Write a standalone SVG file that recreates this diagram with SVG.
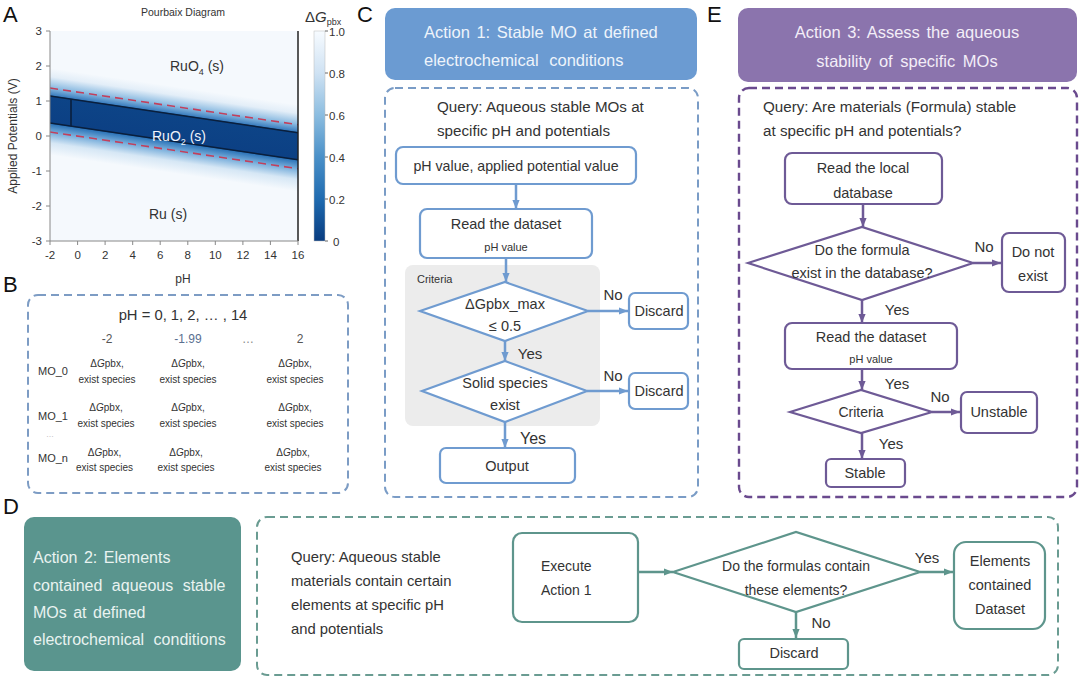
<svg xmlns="http://www.w3.org/2000/svg" width="1080" height="680" viewBox="0 0 1080 680">
<defs>
<style>
text{font-family:"Liberation Sans",Arial,sans-serif;fill:#333}
.pl{font-size:22px;fill:#111}
.tk{font-size:11.5px;fill:#333}
.c{text-anchor:middle}
.bb{fill:#fff;stroke:#6f9bd0;stroke-width:2.2}
.pb{fill:#fff;stroke:#6e5a96;stroke-width:2.2}
.tb{fill:#fff;stroke:#5e958c;stroke-width:2.2}
.bl{stroke:#6f9bd0;stroke-width:2.5;fill:none}
.plk{stroke:#6e5a96;stroke-width:2.5;fill:none}
.tl{stroke:#5e958c;stroke-width:2.5;fill:none}
.ft{font-size:14.5px;fill:#333}
.q{font-size:15.2px;fill:#333}
.sm{font-size:10px;fill:#333}
.yn{font-size:15px;fill:#333}
</style>
<marker id="ab" viewBox="0 0 10 10" refX="10" refY="5" markerWidth="9" markerHeight="9" markerUnits="userSpaceOnUse" orient="auto"><path d="M0,1 L10,5 L0,9 z" fill="#6f9bd0"/></marker>
<marker id="ap" viewBox="0 0 10 10" refX="10" refY="5" markerWidth="9" markerHeight="9" markerUnits="userSpaceOnUse" orient="auto"><path d="M0,1 L10,5 L0,9 z" fill="#6e5a96"/></marker>
<marker id="at" viewBox="0 0 10 10" refX="10" refY="5" markerWidth="9" markerHeight="9" markerUnits="userSpaceOnUse" orient="auto"><path d="M0,1 L10,5 L0,9 z" fill="#5e958c"/></marker>
<linearGradient id="band" x1="0" y1="68" x2="0" y2="155" gradientUnits="userSpaceOnUse">
<stop offset="0" stop-color="#f5f9fd"/>
<stop offset="0.10" stop-color="#e3eef8"/>
<stop offset="0.22" stop-color="#8fbde2"/>
<stop offset="0.31" stop-color="#3c7fc0"/>
<stop offset="0.322" stop-color="#0d4487"/>
<stop offset="0.632" stop-color="#0c4084"/>
<stop offset="0.645" stop-color="#2f76b9"/>
<stop offset="0.74" stop-color="#78aedb"/>
<stop offset="0.86" stop-color="#d6e7f5"/>
<stop offset="1" stop-color="#f5f9fd"/>
</linearGradient>
<linearGradient id="cbar" x1="0" y1="1" x2="0" y2="0">
<stop offset="0" stop-color="#083c80"/>
<stop offset="0.2" stop-color="#1f6bb0"/>
<stop offset="0.4" stop-color="#4a90c8"/>
<stop offset="0.6" stop-color="#8cbde0"/>
<stop offset="0.8" stop-color="#cfe2f3"/>
<stop offset="1" stop-color="#f7fbff"/>
</linearGradient>
<clipPath id="plot"><rect x="50" y="31" width="248" height="210"/></clipPath>
</defs>
<rect width="1080" height="680" fill="#fff"/>

<!-- Panel A -->
<g id="panelA">
<text class="pl" x="3" y="22">A</text>
<text x="183" y="16" class="c" style="font-size:10.5px">Pourbaix Diagram</text>
<rect x="50" y="31" width="248" height="210" fill="#f5f9fd"/>
<g clip-path="url(#plot)">
<g transform="translate(0,-7.4) skewY(8.42)">
<rect x="40" y="68" width="270" height="87" fill="url(#band)"/>
<line x1="50" y1="96" x2="300" y2="96" stroke="#0a1f3c" stroke-width="1.6"/>
<line x1="50" y1="123" x2="300" y2="123" stroke="#0a1f3c" stroke-width="1.6"/>
<line x1="71" y1="96" x2="71" y2="123" stroke="#0a1f3c" stroke-width="1.6"/>
<line x1="50" y1="88" x2="300" y2="88" stroke="#c2405c" stroke-width="1.6" stroke-dasharray="8,5"/>
<line x1="50" y1="132" x2="300" y2="132" stroke="#c2405c" stroke-width="1.6" stroke-dasharray="8,5"/>
</g>
</g>
<line x1="298" y1="31" x2="298" y2="241" stroke="#222" stroke-width="1.5"/>
<path d="M50,31 V241 H298" fill="none" stroke="#888" stroke-width="1"/>
<g stroke="#888" stroke-width="1">
<line x1="46" y1="31" x2="50" y2="31"/><line x1="46" y1="66" x2="50" y2="66"/><line x1="46" y1="101" x2="50" y2="101"/><line x1="46" y1="136" x2="50" y2="136"/><line x1="46" y1="171" x2="50" y2="171"/><line x1="46" y1="206" x2="50" y2="206"/><line x1="46" y1="241" x2="50" y2="241"/>
<line x1="50" y1="241" x2="50" y2="245"/><line x1="77.6" y1="241" x2="77.6" y2="245"/><line x1="105.1" y1="241" x2="105.1" y2="245"/><line x1="132.7" y1="241" x2="132.7" y2="245"/><line x1="160.2" y1="241" x2="160.2" y2="245"/><line x1="187.8" y1="241" x2="187.8" y2="245"/><line x1="215.3" y1="241" x2="215.3" y2="245"/><line x1="242.9" y1="241" x2="242.9" y2="245"/><line x1="270.4" y1="241" x2="270.4" y2="245"/><line x1="298" y1="241" x2="298" y2="245"/>
</g>
<g class="tk" text-anchor="end">
<text x="42" y="35">3</text><text x="42" y="70">2</text><text x="42" y="105">1</text><text x="42" y="140">0</text><text x="42" y="175">-1</text><text x="42" y="210">-2</text><text x="42" y="245">-3</text>
</g>
<g class="tk" text-anchor="middle">
<text x="50" y="259">-2</text><text x="77.6" y="259">0</text><text x="105.1" y="259">2</text><text x="132.7" y="259">4</text><text x="160.2" y="259">6</text><text x="187.8" y="259">8</text><text x="215.3" y="259">10</text><text x="242.9" y="259">12</text><text x="270.4" y="259">14</text><text x="298" y="259">16</text>
</g>
<text x="183" y="283" class="c" style="font-size:12px">pH</text>
<text transform="translate(17,136) rotate(-90)" class="c" style="font-size:12px">Applied Potentials (V)</text>
<text x="197" y="71" class="c" style="font-size:14px">RuO<tspan dy="4" style="font-size:9px">4</tspan><tspan dy="-4"> (s)</tspan></text>
<text x="179" y="141" class="c" style="font-size:14px;fill:#f0f4fa">RuO<tspan dy="4" style="font-size:9px;fill:#f0f4fa">2</tspan><tspan dy="-4" style="fill:#f0f4fa"> (s)</tspan></text>
<text x="168" y="219" class="c" style="font-size:14px">Ru (s)</text>
<text x="305" y="22" style="font-size:15px">Δ<tspan font-style="italic">G</tspan><tspan dy="3" style="font-size:9px">pbx</tspan></text>
<rect x="314" y="31" width="11" height="210" fill="url(#cbar)" stroke="#bbb" stroke-width="0.5"/>
<g stroke="#666" stroke-width="1">
<line x1="325" y1="31" x2="328" y2="31"/><line x1="325" y1="73" x2="328" y2="73"/><line x1="325" y1="115" x2="328" y2="115"/><line x1="325" y1="157" x2="328" y2="157"/><line x1="325" y1="199" x2="328" y2="199"/><line x1="325" y1="241" x2="328" y2="241"/>
</g>
<g class="tk">
<text x="329" y="36">1.0</text><text x="329" y="78">0.8</text><text x="329" y="120">0.6</text><text x="329" y="162">0.4</text><text x="329" y="204">0.2</text><text x="333" y="246">0</text>
</g>
</g>

<!-- Panel B -->
<g id="panelB">
<text class="pl" x="3" y="292">B</text>
<rect x="28" y="295" width="320" height="198" rx="10" fill="none" stroke="#7d9cc4" stroke-width="2" stroke-dasharray="8,5"/>
<text x="183" y="320" class="c" style="font-size:14.8px">pH = 0, 1, 2, … , 14</text>
<text x="107" y="343" class="c" style="font-size:12px;fill:#555">-2</text>
<text x="188" y="343" class="c" style="font-size:12px;fill:#5a6f90">-1.99</text>
<text x="248" y="343" class="c" style="font-size:12px;fill:#888">…</text>
<text x="300" y="343" class="c" style="font-size:12px;fill:#555">2</text>
<text x="38" y="375" style="font-size:11px">MO_0</text>
<text x="38" y="420" style="font-size:11px">MO_1</text>
<text x="50" y="437" class="c" style="font-size:8px;fill:#aaa">…</text>
<text x="38" y="462" style="font-size:11px">MO_n</text>
<g class="sm" text-anchor="middle">
<text x="107" y="367">Δ<tspan font-style="italic">G</tspan>pbx,</text><text x="107" y="383">exist species</text>
<text x="188" y="367">Δ<tspan font-style="italic">G</tspan>pbx,</text><text x="188" y="383">exist species</text>
<text x="295" y="367">Δ<tspan font-style="italic">G</tspan>pbx,</text><text x="295" y="383">exist species</text>
<text x="106" y="411">Δ<tspan font-style="italic">G</tspan>pbx,</text><text x="106" y="427">exist species</text>
<text x="188" y="411">Δ<tspan font-style="italic">G</tspan>pbx,</text><text x="188" y="427">exist species</text>
<text x="295" y="411">Δ<tspan font-style="italic">G</tspan>pbx,</text><text x="295" y="427">exist species</text>
<text x="104.5" y="456">Δ<tspan font-style="italic">G</tspan>pbx,</text><text x="104.5" y="471">exist species</text>
<text x="186" y="456">Δ<tspan font-style="italic">G</tspan>pbx,</text><text x="186" y="471">exist species</text>
<text x="293" y="456">Δ<tspan font-style="italic">G</tspan>pbx,</text><text x="293" y="471">exist species</text>
</g>
</g>

<!-- Panel C -->
<g id="panelC">
<text class="pl" x="357" y="22">C</text>
<g id="c-header"><rect x="385" y="8" width="312" height="72" rx="10" fill="#6b9bd2"/>
<text x="424" y="38" style="font-size:16.5px;fill:#eef4fb;word-spacing:2px">Action 1: Stable MO at defined</text>
<text x="424" y="66" style="font-size:16.5px;fill:#eef4fb;word-spacing:6px">electrochemical conditions</text></g>
<rect x="385" y="88" width="313" height="409" rx="10" fill="none" stroke="#7a9cc6" stroke-width="2" stroke-dasharray="8,5"/>
<text x="437" y="112" class="q">Query: Aqueous stable MOs at</text>
<text x="437" y="136" class="q">specific pH and potentials</text>
<rect x="405" y="265" width="195" height="161" rx="8" fill="#ececec"/>
<text x="417" y="283" style="font-size:11px">Criteria</text>
<g id="c-input"><rect class="bb" x="396" y="147" width="240" height="37" rx="7"/><text x="516" y="171" class="c" style="font-size:14.2px">pH value, applied potential value</text></g>
<g id="c-read"><rect class="bb" x="420" y="209" width="172" height="49" rx="7"/><text x="506" y="229" class="c ft">Read the dataset</text><text x="506" y="251" class="c" style="font-size:11px">pH value</text></g>
<g id="c-d1"><polygon class="bb" points="420,311 505,282 588,311 505,341"/><text x="505" y="309" class="c ft">ΔGpbx_max</text><text x="505" y="331" class="c ft">≤ 0.5</text></g>
<g id="c-dis1"><rect class="bb" x="629" y="293" width="59" height="36" rx="6"/><text x="659" y="316" class="c ft">Discard</text></g>
<g id="c-d2"><polygon class="bb" points="422,391 505,361 587,391 505,422"/><text x="505" y="388" class="c ft">Solid species</text><text x="505" y="410" class="c ft">exist</text></g>
<g id="c-dis2"><rect class="bb" x="629" y="373" width="59" height="36" rx="6"/><text x="659" y="396" class="c ft">Discard</text></g>
<g id="c-out"><rect class="bb" x="440" y="448" width="135" height="35" rx="6"/><text x="507" y="471" class="c" style="font-size:14.5px">Output</text></g>
<text x="613" y="300" class="c yn">No</text>
<text x="613" y="381" class="c yn">No</text>
<text x="530" y="359" class="c yn">Yes</text>
<text x="533" y="444" class="c" style="font-size:16px">Yes</text>
</g>

<!-- Panel E -->
<g id="panelE">
<text class="pl" x="707" y="22">E</text>
<g id="e-header"><rect x="738" y="8" width="339" height="74" rx="10" fill="#8b74ad"/>
<text x="907" y="38" class="c" style="font-size:16.5px;fill:#f3eef8;word-spacing:2px">Action 3: Assess the aqueous</text>
<text x="907" y="67" class="c" style="font-size:16.5px;fill:#f3eef8;word-spacing:3px">stability of specific MOs</text></g>
<rect x="739" y="88" width="338" height="409" rx="10" fill="none" stroke="#6a4a8e" stroke-width="2.4" stroke-dasharray="8,5"/>
<text x="763" y="112" class="q">Query: Are materials (Formula) stable</text>
<text x="763" y="136" class="q">at specific pH and potentials?</text>
<g id="e-read"><rect class="pb" x="785" y="153" width="157" height="51" rx="7"/><text x="863" y="173" class="c ft">Read the local</text><text x="863" y="198" class="c ft">database</text></g>
<g id="e-d1"><polygon class="pb" points="748,263 862,227 973,263 862,300"/><text x="862" y="255" class="c ft">Do the formula</text><text x="862" y="278" class="c ft">exist in the database?</text></g>
<g id="e-dne"><rect class="pb" x="1002" y="233" width="63" height="59" rx="7"/><text x="1033" y="257" class="c ft">Do not</text><text x="1033" y="281" class="c ft">exist</text></g>
<g id="e-read2"><rect class="pb" x="785" y="323" width="172" height="46" rx="7"/><text x="871" y="342" class="c ft">Read the dataset</text><text x="871" y="363" class="c" style="font-size:11px">pH value</text></g>
<g id="e-d2"><polygon class="pb" points="790,412 861,390 932,412 861,433"/><text x="861" y="417" class="c" style="font-size:14px">Criteria</text></g>
<g id="e-uns"><rect class="pb" x="961" y="392" width="76" height="41" rx="6"/><text x="999" y="417" class="c ft">Unstable</text></g>
<g id="e-st"><rect class="pb" x="826" y="459" width="79" height="28" rx="5"/><text x="865" y="478" class="c ft">Stable</text></g>
<text x="984" y="252" class="c yn">No</text>
<text x="897" y="315" class="c yn">Yes</text>
<text x="897" y="389" class="c yn">Yes</text>
<text x="940" y="402" class="c yn">No</text>
<text x="891" y="449" class="c yn">Yes</text>
</g>

<!-- Panel D -->
<g id="panelD">
<text class="pl" x="3" y="514">D</text>
<g id="d-header"><rect x="24" y="517" width="217" height="154" rx="10" fill="#5a958e"/>
<g style="font-size:16px;word-spacing:2px">
<text x="33" y="563" style="fill:#e9f3f1">Action 2: Elements</text>
<text x="33" y="591" style="fill:#e9f3f1;word-spacing:5px">contained aqueous stable</text>
<text x="33" y="618" style="fill:#e9f3f1">MOs at defined</text>
<text x="33" y="645" style="fill:#e9f3f1;word-spacing:5px">electrochemical conditions</text>
</g></g>
<rect x="257" y="517" width="801" height="158" rx="10" fill="none" stroke="#6a9c92" stroke-width="2" stroke-dasharray="8,5"/>
<g style="font-size:14.8px">
<text x="291" y="562">Query: Aqueous stable</text>
<text x="291" y="586">materials contain certain</text>
<text x="291" y="610">elements at specific pH</text>
<text x="291" y="634">and potentials</text>
</g>
<g id="d-exec"><rect class="tb" x="513" y="533" width="125" height="89" rx="9"/><text x="541" y="571" style="font-size:14px">Execute</text><text x="541" y="595" style="font-size:14px">Action 1</text></g>
<g id="d-dia"><polygon class="tb" points="673,572 796,532 920,572 796,612"/><text x="796" y="571" class="c" style="font-size:14px">Do the formulas contain</text><text x="796" y="595" class="c" style="font-size:14px">these elements?</text></g>
<g id="d-ds"><rect class="tb" x="954" y="542" width="91" height="87" rx="12"/><text x="1000" y="566" class="c ft">Elements</text><text x="1000" y="590" class="c ft">contained</text><text x="1000" y="614" class="c ft">Dataset</text></g>
<g id="d-dis"><rect class="tb" x="739" y="639" width="109" height="30" rx="5"/><text x="794" y="658" class="c ft">Discard</text></g>
<text x="927" y="563" class="c yn">Yes</text>
<text x="821" y="628" class="c yn">No</text>
</g>

<g id="connectors">
<line class="bl" x1="516" y1="184" x2="516" y2="209" marker-end="url(#ab)"/>
<line class="bl" x1="506" y1="258" x2="506" y2="282" marker-end="url(#ab)"/>
<line class="bl" x1="588" y1="311" x2="628" y2="311" marker-end="url(#ab)"/>
<line class="bl" x1="505" y1="341" x2="505" y2="361" marker-end="url(#ab)"/>
<line class="bl" x1="587" y1="391" x2="628" y2="391" marker-end="url(#ab)"/>
<line class="bl" x1="505" y1="422" x2="505" y2="448" marker-end="url(#ab)"/>
<line class="plk" x1="863" y1="204" x2="863" y2="227" marker-end="url(#ap)"/>
<line class="plk" x1="973" y1="263" x2="1001" y2="263" marker-end="url(#ap)"/>
<line class="plk" x1="862" y1="300" x2="862" y2="323" marker-end="url(#ap)"/>
<line class="plk" x1="862" y1="369" x2="862" y2="390" marker-end="url(#ap)"/>
<line class="plk" x1="932" y1="412" x2="960" y2="412" marker-end="url(#ap)"/>
<line class="plk" x1="862" y1="433" x2="862" y2="459" marker-end="url(#ap)"/>
<line class="tl" x1="638" y1="572" x2="673" y2="572" marker-end="url(#at)"/>
<line class="tl" x1="920" y1="572" x2="953" y2="572" marker-end="url(#at)"/>
<line class="tl" x1="796" y1="612" x2="796" y2="638" marker-end="url(#at)"/>
</g>
</svg>
